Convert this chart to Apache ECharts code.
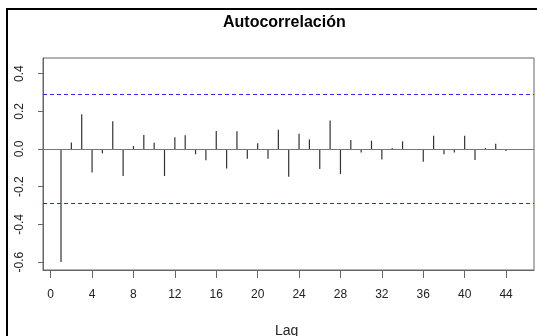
<!DOCTYPE html>
<html>
<head>
<meta charset="utf-8">
<script src="https://cdn.jsdelivr.net/npm/echarts@6/dist/echarts.min.js"></script>
<style>
  html, body { margin: 0; padding: 0; background: #fff; }
  #acfChart { width: 537px; height: 336px; }
</style>
</head>
<body>
<div id="acfChart"></div>
<script>
// lags 1..45 (lag 0 not drawn)
const lags = [1, 2, 3, 4, 5, 6, 7, 8, 9, 10, 11, 12, 13, 14, 15, 16, 17, 18, 19, 20, 21, 22, 23,
  24, 25, 26, 27, 28, 29, 30, 31, 32, 33, 34, 35, 36, 37, 38, 39, 40, 41, 42, 43, 44, 45];
const acfValues = [-0.60, 0.035, 0.184, -0.124, -0.023, 0.148, -0.143, 0.016, 0.074, 0.033,
  -0.143, 0.062, 0.073, -0.028, -0.060, 0.095, -0.104, 0.094, -0.051, 0.030,
  -0.051, 0.102, -0.147, 0.081, 0.051, -0.106, 0.152, -0.133, 0.048, -0.019,
  0.044, -0.055, 0.005, 0.041, -0.005, -0.067, 0.071, -0.028, -0.018, 0.071,
  -0.058, 0.005, 0.028, -0.011, -0.003];
const xTicks = [0, 4, 8, 12, 16, 20, 24, 28, 32, 36, 40, 44];
const yTicks = [-0.6, -0.4, -0.2, 0.0, 0.2, 0.4];
const confLimits = [0.29, -0.29]; // banda de confianza

const acfChart = echarts.init(document.getElementById('acfChart'));
const font = 'Liberation Sans, Arial, sans-serif';

let option = {
  animation: false,
  textStyle: { fontFamily: font },
  title: [
    {
      text: 'Autocorrelación',
      left: 218, top: 10,
      textStyle: { fontSize: 16, fontWeight: 'bold', color: '#000', fontFamily: font }
    },
    {
      text: 'Lag',
      left: 270, top: 319,
      textStyle: { fontSize: 14, fontWeight: 'normal', color: '#222', fontFamily: font }
    }
  ],
  graphic: [
    {
      type: 'rect',
      shape: { x: 7, y: 9, width: 600, height: 400 },
      style: { fill: 'none', stroke: '#000', lineWidth: 2 },
      silent: true
    }
  ],
  grid: {
    left: 43, top: 58, right: 3, bottom: 66,
    show: true, borderColor: '#666', borderWidth: 1
  },
  xAxis: {
    type: 'value',
    min: -0.74, max: 46.7,
    axisLine: { show: true, onZero: false, lineStyle: { color: '#666' } },
    axisTick: { show: true, inside: false, length: 8, customValues: xTicks, lineStyle: { color: '#666' } },
    axisLabel: { customValues: xTicks, fontSize: 12, color: '#222', margin: 19, fontFamily: font },
    splitLine: { show: false }
  },
  yAxis: {
    type: 'value',
    min: -0.642, max: 0.483,
    axisLine: { show: true, onZero: false, lineStyle: { color: '#666' } },
    axisTick: { show: true, inside: false, length: 5, customValues: yTicks, lineStyle: { color: '#666' } },
    axisLabel: {
      customValues: yTicks, rotate: 90, fontSize: 12, color: '#222', margin: 17,
      fontFamily: font,
      formatter: (v) => v.toFixed(1)
    },
    splitLine: { show: false }
  },
  series: [
    {
      type: 'bar',
      barWidth: 1.2,
      itemStyle: { color: '#333' },
      data: lags.map((l, i) => [l, acfValues[i]]),
      markLine: {
        silent: true,
        symbol: 'none',
        label: { show: false },
        data: [{ yAxis: 0 }],
        lineStyle: { color: '#777', type: 'solid', width: 1 }
      }
    },
    {
      // limites de confianza
      type: 'line',
      data: [],
      markLine: {
        silent: true,
        symbol: 'none',
        label: { show: false },
        lineStyle: { color: '#2a2aff', type: [4, 3], width: 1 },
        data: confLimits.map((c) => ({ yAxis: c }))
      }
    }
  ]
};
acfChart.setOption(option);
</script>
</body>
</html>
